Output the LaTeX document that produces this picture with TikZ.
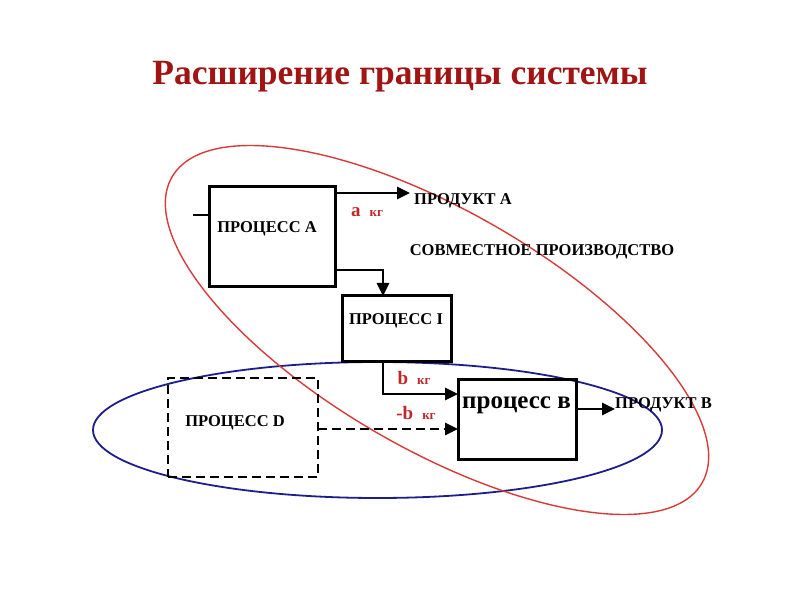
\documentclass[tikz,border=0pt]{standalone}
\usepackage{fontspec}
\setmainfont{Liberation Serif}
\usetikzlibrary{arrows.meta,calc}
\definecolor{titlered}{HTML}{A01414}
\definecolor{ellred}{HTML}{D83A3A}
\definecolor{ellblue}{HTML}{1E1E8A}
\definecolor{lblred}{HTML}{C02828}
\tikzset{
  procbox/.style={draw=black, line width=3pt, minimum width=#1, inner sep=0pt, outer sep=0pt},
  boxtext/.style={font=\bfseries\fontsize{16.5}{18}\selectfont, inner sep=0pt},
  flow/.style={line width=2.9pt, -{Triangle[length=13pt,width=12pt]}},
  qty/.style={text=lblred, font=\bfseries, inner sep=0pt},
}
\begin{document}
\begin{tikzpicture}[x=1pt,y=1pt]
\useasboundingbox (0,0) rectangle (800,600);
% title
\node[text=titlered, font=\bfseries\fontsize{35.5}{40}\selectfont, inner sep=0pt] (title) at (400,523) {Расширение границы системы};
% ellipses
\draw[ellblue, line width=1.8pt] (377.5,170) ellipse [x radius=284.5, y radius=68];
\draw[ellred, line width=1.4pt, rotate around={-30:(437,270)}] (437,270) ellipse [x radius=306, y radius=119];
% boxes
\node[procbox=126pt, minimum height=100pt] (A) at (272,363) {};
\node[procbox=109pt, minimum height=66pt] (I) at (396.5,271) {};
\node[procbox=118pt, minimum height=79pt] (B) at (517,180.5) {};
\node[draw=black, line width=2.7pt, dash pattern=on 9pt off 5pt, minimum width=150pt, minimum height=99pt, inner sep=0pt, outer sep=0pt] (D) at (243,172.5) {};
% box texts
\node[boxtext] (tA) at (267,371) {ПРОЦЕСС А};
\node[boxtext] (tI) at (396,279) {ПРОЦЕСС I};
\node[boxtext] (tD) at (235,177) {ПРОЦЕСС D};
\node[font=\bfseries\fontsize{25}{28}\selectfont, inner sep=0pt] (tB) at (516.5,195) {процесс в};
% other texts
\node[boxtext, anchor=west] (pA) at (414,399) {ПРОДУКТ А};
\node[boxtext, anchor=west] (pB) at (615,195) {ПРОДУКТ В};
\node[boxtext] (joint) at (542,348) {СОВМЕСТНОЕ ПРОИЗВОДСТВО};
\node[qty] (qa) at (367,388) {\fontsize{19}{20}\selectfont а\hspace{9pt}\fontsize{13}{14}\selectfont кг};
\node[qty] (qb) at (414,222) {\fontsize{19}{20}\selectfont b\hspace{9pt}\fontsize{13}{14}\selectfont кг};
\node[qty] (qmb) at (416,187) {\fontsize{19}{20}\selectfont -b\hspace{9pt}\fontsize{13}{14}\selectfont кг};
% coordinates
\coordinate (inA) at (193,385);
\coordinate (endA) at (410,407);
\coordinate (endB) at (615,191);
\coordinate (a1) at (383,330);
\coordinate (b1) at (383,206);
\coordinate (d1) at (318,171);
% connectors
\draw[line width=2.4pt] (inA) -- (inA -| A.west);
\draw[flow] (A.east |- endA) -- (endA);
\draw[flow] (A.east |- a1) -| (I.north -| a1);
\draw[flow] (I.south -| b1) |- (B.west |- b1);
\draw[flow] (B.east |- endB) -- (endB);
\draw[line width=2.7pt, dash pattern=on 9pt off 5pt, -{Triangle[length=13pt,width=12pt]}] (D.east |- d1) -- (B.west |- d1);
\end{tikzpicture}
\end{document}
